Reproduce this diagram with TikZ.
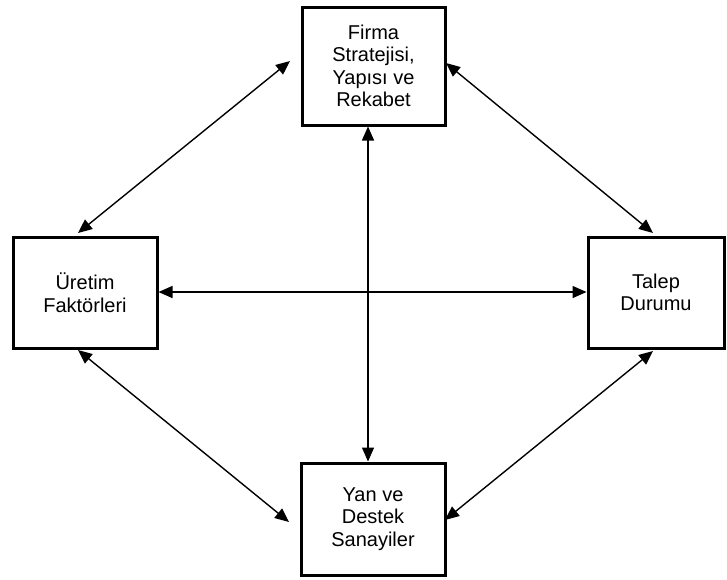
\documentclass[tikz,border=0pt]{standalone}
\usepackage{fontspec}
\setmainfont{Liberation Sans}
\usetikzlibrary{arrows.meta}
\begin{document}
\begin{tikzpicture}[x=1pt,y=-1pt,
  box/.style={draw,line width=3pt,inner sep=0pt,align=center,
    font=\fontsize{20}{22.5}\selectfont},
  link/.style={line width=1.4pt,{Triangle[length=14pt,width=12pt]}-{Triangle[length=14pt,width=12pt]}}]
\useasboundingbox (0,0) rectangle (727,579);
\node[box,minimum width=143pt,minimum height=118pt] (T) at (373.5,66) {Firma\\Stratejisi,\\Yapısı ve\\Rekabet};
\node[box,minimum width=144pt,minimum height=111pt] (L) at (85,292.5) {Üretim\\Faktörleri};
\node[box,minimum width=136pt,minimum height=111pt] (R) at (656,292.5) {Talep\\Durumu};
\node[box,minimum width=144pt,minimum height=112pt] (B) at (373,519) {Yan ve\\Destek\\Sanayiler};
\coordinate (tl1) at (78,233);
\coordinate (tl2) at (290,61);
\coordinate (tr1) at (446,63);
\coordinate (tr2) at (653,233);
\coordinate (bl1) at (78,350);
\coordinate (bl2) at (289,522);
\coordinate (br1) at (445,520);
\coordinate (br2) at (653,351);
\draw[link] (T.south -| 368,0) -- (B.north -| 368,0);
\draw[link] (L.east |- 0,292) -- (R.west |- 0,292);
\draw[link] (tl1) -- (tl2);
\draw[link] (tr1) -- (tr2);
\draw[link] (bl1) -- (bl2);
\draw[link] (br1) -- (br2);
\end{tikzpicture}
\end{document}
